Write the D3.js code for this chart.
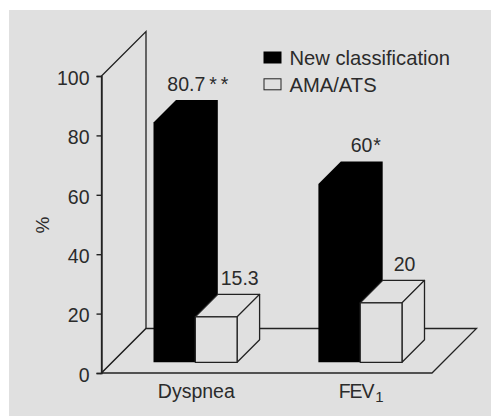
<!DOCTYPE html>
<html>
<head>
<meta charset="utf-8">
<script src="https://cdn.jsdelivr.net/npm/d3@7"></script>
<style>
	html, body { margin: 0; padding: 0; background: #fff; }
	text { font-family: "Liberation Sans", Arial, sans-serif; fill: #2b2b2b; }
	.axis path, .axis line { stroke: #222; stroke-width: 1.4; }
	.axis text { font-size: 19.5px; }
</style>
</head>
<body>
<svg id="chart" width="491" height="416"></svg>
<script>
const categories = ['Dyspnea', 'FEV'];
const series_names = ['New classification', 'AMA/ATS'];
const new_classification = [80.7, 60];
const ama_ats = [15.3, 20];
const new_labels = ['80.7', '60'];
const new_stars = ['**', '*'];
const ama_labels = ['15.3', '20'];
const y_ticks = [0, 20, 40, 60, 80, 100];

const ink = '#222', paper = '#e0e0e0';

const svg = d3.select('#chart');
svg.append('rect').attr('x', 9).attr('y', 10).attr('width', 482).attr('height', 406).attr('fill', paper);

const y = d3.scaleLinear().domain([0, 100]).range([373, 76]);
const x = d3.scaleBand().domain(categories).range([153.5, 402]).paddingInner(0.493);
const x_inner = d3.scaleBand().domain(series_names).range([0, x.bandwidth()]);

// chart depth, in px
const wall_depth = 44.5;
const bar_depth = 22.5;
const bar_inset = 10.7; // bars stand a bit behind the front edge of the floor
const floor_x1 = 432;

const poly = pts => 'M' + pts.map(p => p.join(',')).join('L') + 'Z';
const wall_top = y(100), wall_bottom = y(0);
const left = 101.5;

// wall on the left
svg.append('path')
	.attr('d', poly([[left, wall_top], [left + wall_depth, wall_top - wall_depth], [left + wall_depth, wall_bottom - wall_depth], [left, wall_bottom]]))
	.attr('fill', paper).attr('stroke', ink).attr('stroke-width', 1.3);

// floor
svg.append('path')
	.attr('d', poly([[left, wall_bottom], [left + wall_depth, wall_bottom - wall_depth], [floor_x1 + wall_depth, wall_bottom - wall_depth], [floor_x1, wall_bottom]]))
	.attr('fill', paper).attr('stroke', ink).attr('stroke-width', 1.3);

// y axis
svg.append('g')
	.attr('class', 'axis')
	.attr('transform', `translate(${left},0)`)
	.call(d3.axisLeft(y).tickValues(y_ticks).tickSize(5).tickPadding(7))
	.call(g => g.selectAll('text').attr('dy', '0.42em'));

const draw_bar = (cat, name, value, fill) => {
	const x0 = x(cat) + x_inner(name), w = x_inner.bandwidth();
	const base = y(0) - bar_inset, top = base - (y(0) - y(value));
	const d = bar_depth;
	if (fill === '#000') {
		// solid bars are one silhouette, the faces don't show
		svg.append('path').attr('fill', fill)
			.attr('d', poly([[x0, top], [x0 + d, top - d], [x0 + w + d, top - d], [x0 + w + d, base - d], [x0 + w, base], [x0, base]]));
	} else {
		const g = svg.append('g').attr('fill', fill)
			.attr('stroke', ink).attr('stroke-width', 1.3).attr('stroke-linejoin', 'round');
		// top, side, front
		g.append('path').attr('d', poly([[x0, top], [x0 + d, top - d], [x0 + w + d, top - d], [x0 + w, top]]));
		g.append('path').attr('d', poly([[x0 + w, top], [x0 + w + d, top - d], [x0 + w + d, base - d], [x0 + w, base]]));
		g.append('rect').attr('x', x0).attr('y', top).attr('width', w).attr('height', base - top);
	}
	return [x0 + w / 2 + d, top - d];
};

const draw_label = (pos, label, dx) => svg.append('text')
	.attr('x', pos[0] + dx).attr('y', pos[1] - 9.5)
	.attr('text-anchor', 'middle').attr('font-size', 19.5).text(label);

categories.forEach((cat, i) => {
	const p1 = draw_bar(cat, series_names[0], new_classification[i], '#000');
	const p2 = draw_bar(cat, series_names[1], ama_ats[i], paper);
	const t = draw_label(p1, new_labels[i], i === 0 ? 3 : 4);
	t.append('tspan').attr('dx', i === 0 ? 4 : 1).attr('letter-spacing', i === 0 ? 4 : 0).text(new_stars[i]);
	draw_label(p2, ama_labels[i], 1);
});

// category labels
categories.forEach(cat => {
	const t = svg.append('text')
		.attr('x', x(cat) + x.bandwidth() / 2 + 1)
		.attr('y', 398)
		.attr('text-anchor', 'middle')
		.attr('font-size', 19.5)
		.text(cat);
	if (cat === 'FEV') {
		t.attr('letter-spacing', -1.2);
		t.append('tspan').attr('dx', 2).attr('dy', 4).attr('font-size', 15).attr('letter-spacing', 0).text('1');
	}
});

// y title
svg.append('text')
	.attr('transform', 'translate(49,225) rotate(-90)')
	.attr('text-anchor', 'middle')
	.attr('font-size', 19)
	.text('%');

// legend
const legend_y = d3.scalePoint().domain(series_names).range([57.5, 84.3]);
series_names.forEach((name, i) => {
	svg.append('rect')
		.attr('x', 264).attr('y', legend_y(name) - 5.5)
		.attr('width', 17).attr('height', 11)
		.attr('fill', i === 0 ? '#000' : paper)
		.attr('stroke', i === 0 ? '#000' : ink).attr('stroke-width', 1);
	svg.append('text')
		.attr('x', 289.5).attr('y', legend_y(name) + 7.2)
		.attr('font-size', 20.2)
		.text(name);
});
</script>
</body>
</html>
